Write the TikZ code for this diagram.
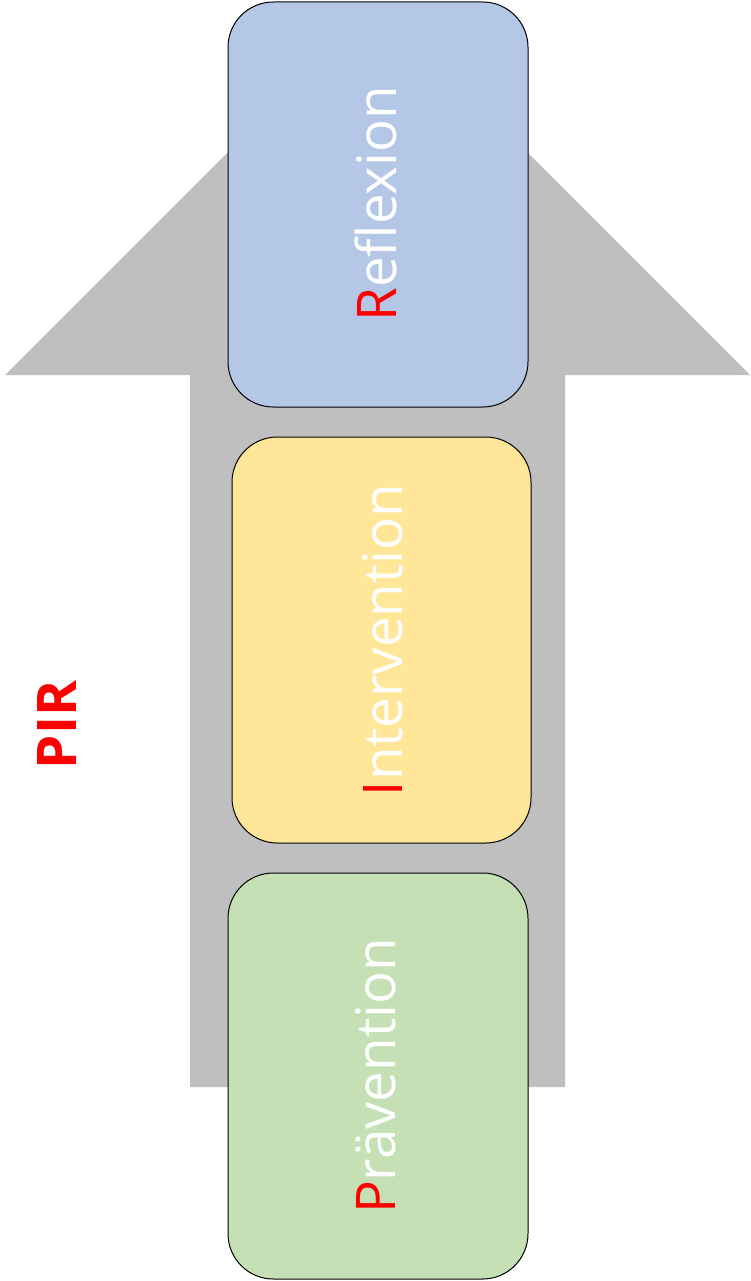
\documentclass[tikz,border=0pt]{standalone}
\usepackage{fontspec}
\setmainfont{Open Sans}
\definecolor{arrowgray}{HTML}{BFBFBF}
\definecolor{boxblue}{HTML}{B4C7E7}
\definecolor{boxyellow}{HTML}{FFE699}
\definecolor{boxgreen}{HTML}{C5E0B4}
\definecolor{pirred}{HTML}{FF0000}
\tikzset{
  stagebox/.style={draw=black, line width=0.75pt, rounded corners=34pt},
  stagetext/.style={text=white, font=\fontsize{41}{48}\selectfont, rotate=90, inner sep=0pt},
}
\begin{document}
\begin{tikzpicture}[x=0.75pt, y=-0.75pt]
\useasboundingbox (0,0) rectangle (750,1281);
% big arrow
\fill[arrowgray] (190,1087) -- (190,375) -- (5,375) -- (377.5,2.5) -- (750,375) -- (565,375) -- (565,1087) -- cycle;
% boxes
\draw[stagebox, fill=boxblue] (228,2) rectangle (528,407);
\draw[stagebox, fill=boxyellow] (232,437) rectangle (531,843);
\draw[stagebox, fill=boxgreen] (228,873) rectangle (528,1279);
\node[stagetext] (refl) at (376,204) {\textcolor{pirred}{R}eflexion};
\node[stagetext] (inter) at (383,640) {\textcolor{pirred}{I}ntervention};
\node[stagetext] (prae) at (376,1076) {\textcolor{pirred}{P}rävention};
\node[text=pirred, rotate=90, inner sep=0pt, font=\bfseries\fontsize{41}{48}\selectfont] (pir) at (57,725) {PIR};
\end{tikzpicture}
\end{document}
